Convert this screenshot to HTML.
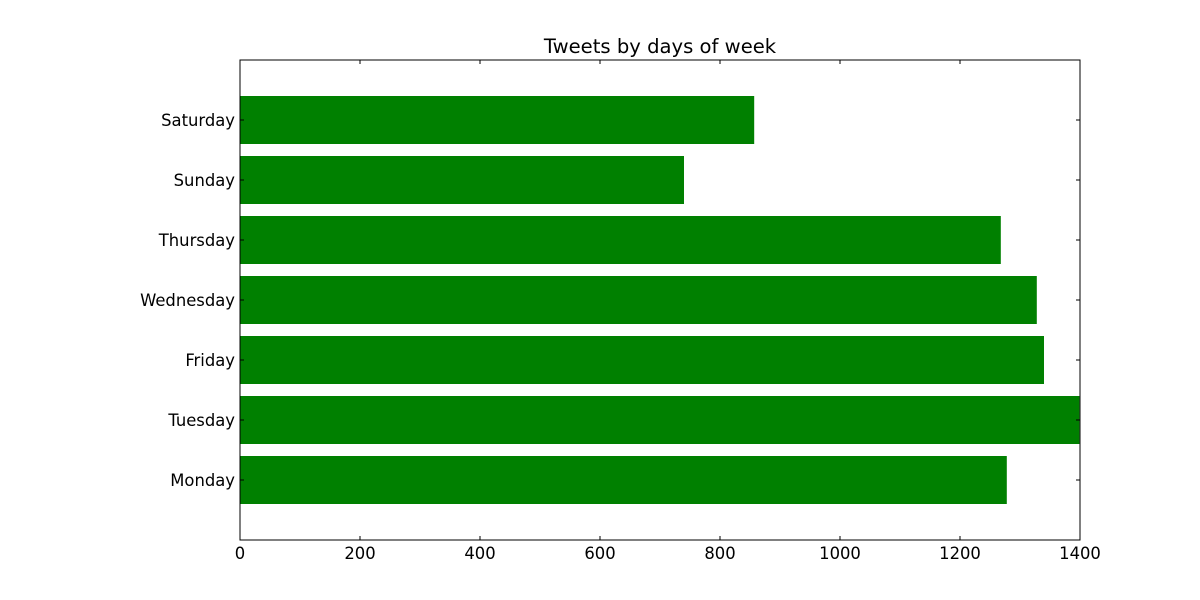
<!DOCTYPE html>
<html><head><meta charset="utf-8"><style>
body{margin:0;background:#fff}
svg{display:block;font-family:"DejaVu Sans","Liberation Sans",sans-serif}
</style></head><body>
<svg id="chart" width="1200" height="600">
<text x="660" y="53" font-size="19.6" text-anchor="middle">Tweets by days of week</text>
<g id="bars"></g>
<g id="axes"></g>
<rect x="240" y="60" width="840" height="480" fill="none" stroke="#000" stroke-width="1"/>
</svg>
<script>
const categories = ["Monday","Tuesday","Friday","Wednesday","Thursday","Sunday","Saturday"];
const values = [1278, 1399, 1340, 1328, 1268, 740, 857];
const xTicks = [0,200,400,600,800,1000,1200,1400];
const X0=240,X1=1080,Y0=60,Y1=540,XMAX=1400,YMIN=-1,YMAX=7;
const xs=v=>X0+(v/XMAX)*(X1-X0);
const ys=v=>Y1-(v-YMIN)/(YMAX-YMIN)*(Y1-Y0);
const NS="http://www.w3.org/2000/svg";
const bars=document.getElementById('bars'), axes=document.getElementById('axes');
function mk(tag,attrs,parent){const e=document.createElementNS(NS,tag);for(const k in attrs)e.setAttribute(k,attrs[k]);parent.appendChild(e);return e;}
categories.forEach((c,i)=>{
  const r=mk('rect',{x:xs(0),y:ys(i+0.4),width:xs(values[i])-xs(0),height:ys(i-0.4)-ys(i+0.4),fill:'#008000'},bars);
  
  
  const t=mk('text',{x:235,y:ys(i)+6,'font-size':16.4,'text-anchor':'end'},axes);
  t.textContent=c;
  
  
  mk('line',{x1:X0,x2:X0+4,y1:ys(i),y2:ys(i),stroke:'#000'},axes);
  mk('line',{x1:X1,x2:X1-4,y1:ys(i),y2:ys(i),stroke:'#000'},axes);
});
xTicks.forEach(v=>{
  const x=xs(v);
  mk('line',{x1:x,x2:x,y1:Y1,y2:Y1-4,stroke:'#000'},axes);
  mk('line',{x1:x,x2:x,y1:Y0,y2:Y0+4,stroke:'#000'},axes);
  const t=mk('text',{x:x,y:559,'font-size':16.4,'text-anchor':'middle'},axes);
  t.textContent=v;
  
  
});
</script>
</body></html>
